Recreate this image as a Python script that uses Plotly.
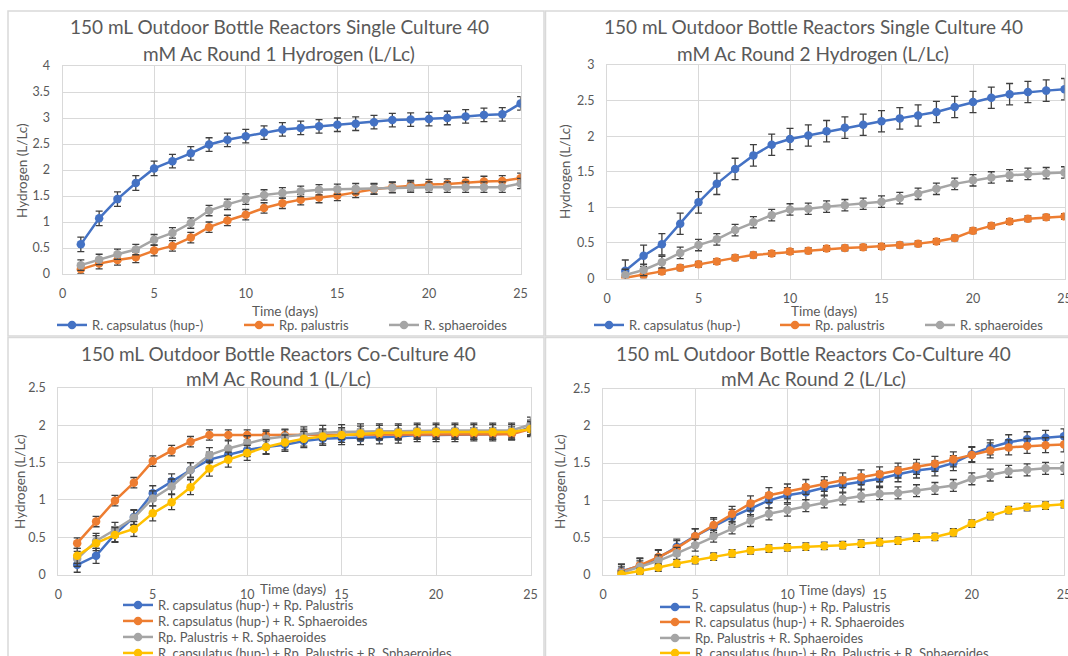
import plotly.graph_objects as go

W, H = 1068, 656
FONT = "Lato"
TXT = "#595959"
GRID = "#d9d9d9"
BLUE, ORANGE, GRAY, GOLD = "#4472C4", "#ED7D31", "#A5A5A5", "#FFC000"

days = list(range(1, 26))

# ---- Single culture, round 1 ----
r1_cap = [0.57, 1.07, 1.44, 1.75, 2.03, 2.17, 2.32, 2.49, 2.58, 2.65, 2.72, 2.78, 2.81,
          2.84, 2.87, 2.89, 2.92, 2.96, 2.97, 2.98, 3.00, 3.03, 3.06, 3.07, 3.28]
r1_cap_err = [0.14, 0.14, 0.14, 0.14, 0.14, 0.13, 0.13, 0.13, 0.13, 0.13, 0.13, 0.13, 0.13,
              0.13, 0.13, 0.13, 0.13, 0.13, 0.13, 0.13, 0.13, 0.13, 0.13, 0.13, 0.13]
r1_pal = [0.09, 0.20, 0.27, 0.32, 0.45, 0.54, 0.70, 0.90, 1.03, 1.14, 1.27, 1.36, 1.43,
          1.47, 1.51, 1.57, 1.63, 1.67, 1.70, 1.72, 1.73, 1.76, 1.78, 1.79, 1.84]
r1_pal_err = [0.09, 0.1, 0.1, 0.1, 0.1, 0.1, 0.1, 0.1, 0.1, 0.1, 0.1, 0.1, 0.1,
              0.1, 0.1, 0.1, 0.1, 0.1, 0.1, 0.1, 0.1, 0.1, 0.1, 0.1, 0.1]
r1_sph = [0.17, 0.28, 0.38, 0.47, 0.66, 0.79, 0.98, 1.22, 1.34, 1.44, 1.52, 1.56, 1.59,
          1.62, 1.63, 1.64, 1.64, 1.66, 1.67, 1.67, 1.67, 1.67, 1.67, 1.67, 1.74]
r1_sph_err = [0.1, 0.1, 0.1, 0.1, 0.1, 0.1, 0.1, 0.1, 0.1, 0.1, 0.1, 0.1, 0.1,
              0.1, 0.1, 0.1, 0.1, 0.1, 0.1, 0.1, 0.1, 0.1, 0.1, 0.1, 0.1]

# ---- Single culture, round 2 ----
r2_cap = [0.11, 0.32, 0.48, 0.77, 1.07, 1.33, 1.54, 1.73, 1.88, 1.96, 2.01, 2.07, 2.12,
          2.16, 2.21, 2.25, 2.29, 2.34, 2.41, 2.48, 2.54, 2.59, 2.62, 2.64, 2.66]
r2_cap_err = [0.15, 0.15, 0.15, 0.15, 0.15, 0.15, 0.15, 0.15, 0.15, 0.15, 0.15, 0.15, 0.15,
              0.15, 0.15, 0.15, 0.15, 0.15, 0.15, 0.15, 0.15, 0.15, 0.15, 0.15, 0.15]
r2_pal = [0.01, 0.05, 0.10, 0.15, 0.20, 0.24, 0.29, 0.33, 0.35, 0.38, 0.39, 0.42, 0.43,
          0.44, 0.45, 0.47, 0.49, 0.52, 0.57, 0.67, 0.74, 0.80, 0.84, 0.86, 0.87]
r2_pal_err = [0.03, 0.04, 0.04, 0.04, 0.04, 0.04, 0.04, 0.04, 0.04, 0.04, 0.04, 0.04, 0.04,
              0.04, 0.04, 0.04, 0.04, 0.04, 0.04, 0.04, 0.04, 0.04, 0.04, 0.04, 0.04]
r2_sph = [0.05, 0.12, 0.23, 0.36, 0.47, 0.55, 0.68, 0.79, 0.89, 0.97, 0.98, 1.01, 1.03,
          1.05, 1.08, 1.13, 1.19, 1.26, 1.33, 1.38, 1.42, 1.45, 1.47, 1.48, 1.49]
r2_sph_err = [0.08, 0.08, 0.08, 0.08, 0.08, 0.08, 0.08, 0.08, 0.08, 0.08, 0.08, 0.08, 0.08,
              0.08, 0.08, 0.08, 0.08, 0.08, 0.08, 0.08, 0.08, 0.08, 0.08, 0.08, 0.08]

# ---- Co-culture, round 1 ----
c1_cap_pal = [0.13, 0.25, 0.54, 0.77, 1.09, 1.25, 1.40, 1.54, 1.61, 1.67, 1.71, 1.74, 1.79,
              1.82, 1.83, 1.83, 1.84, 1.85, 1.87, 1.87, 1.87, 1.88, 1.88, 1.89, 1.97]
c1_cap_pal_err = [0.1, 0.1, 0.1, 0.1, 0.1, 0.1, 0.1, 0.1, 0.09, 0.09, 0.09, 0.09, 0.09,
                  0.09, 0.09, 0.09, 0.09, 0.09, 0.09, 0.09, 0.09, 0.09, 0.09, 0.09, 0.1]
c1_cap_sph = [0.42, 0.71, 0.99, 1.23, 1.52, 1.66, 1.78, 1.87, 1.87, 1.87, 1.87, 1.87, 1.88,
              1.88, 1.88, 1.88, 1.88, 1.88, 1.88, 1.88, 1.88, 1.88, 1.88, 1.88, 1.95]
c1_cap_sph_err = [0.07, 0.07, 0.07, 0.07, 0.07, 0.07, 0.07, 0.07, 0.07, 0.07, 0.07, 0.07, 0.07,
                  0.07, 0.07, 0.07, 0.07, 0.07, 0.07, 0.07, 0.07, 0.07, 0.07, 0.07, 0.08]
c1_pal_sph = [0.21, 0.45, 0.60, 0.76, 1.02, 1.18, 1.40, 1.60, 1.69, 1.76, 1.82, 1.85, 1.88,
              1.90, 1.91, 1.92, 1.92, 1.92, 1.93, 1.93, 1.93, 1.93, 1.93, 1.93, 2.01]
c1_pal_sph_err = [0.1, 0.1, 0.1, 0.1, 0.1, 0.1, 0.1, 0.1, 0.1, 0.1, 0.1, 0.1, 0.1,
                  0.1, 0.1, 0.1, 0.1, 0.1, 0.1, 0.1, 0.1, 0.1, 0.1, 0.1, 0.1]
c1_all = [0.25, 0.42, 0.53, 0.61, 0.82, 0.97, 1.17, 1.42, 1.54, 1.63, 1.71, 1.77, 1.82,
          1.85, 1.87, 1.89, 1.90, 1.90, 1.91, 1.91, 1.91, 1.91, 1.91, 1.91, 1.95]
c1_all_err = [0.1, 0.1, 0.1, 0.1, 0.1, 0.1, 0.1, 0.1, 0.1, 0.1, 0.1, 0.1, 0.1,
              0.1, 0.1, 0.1, 0.1, 0.1, 0.1, 0.1, 0.1, 0.1, 0.1, 0.1, 0.1]

# ---- Co-culture, round 2 ----
c2_cap_pal = [0.05, 0.12, 0.23, 0.38, 0.52, 0.65, 0.78, 0.89, 1.00, 1.07, 1.11, 1.17, 1.21,
              1.25, 1.29, 1.35, 1.40, 1.43, 1.50, 1.62, 1.71, 1.78, 1.82, 1.84, 1.86]
c2_cap_pal_err = [0.1, 0.1, 0.1, 0.1, 0.1, 0.1, 0.1, 0.1, 0.1, 0.1, 0.1, 0.1, 0.1,
                  0.1, 0.1, 0.1, 0.1, 0.1, 0.1, 0.1, 0.1, 0.1, 0.1, 0.1, 0.1]
c2_cap_sph = [0.04, 0.13, 0.24, 0.36, 0.52, 0.67, 0.82, 0.96, 1.07, 1.12, 1.18, 1.22, 1.27,
              1.31, 1.35, 1.40, 1.45, 1.49, 1.55, 1.61, 1.67, 1.71, 1.73, 1.74, 1.75]
c2_cap_sph_err = [0.1, 0.1, 0.1, 0.1, 0.1, 0.1, 0.1, 0.1, 0.1, 0.1, 0.1, 0.1, 0.1,
                  0.1, 0.1, 0.1, 0.1, 0.1, 0.1, 0.1, 0.1, 0.1, 0.1, 0.1, 0.1]
c2_pal_sph = [0.03, 0.11, 0.19, 0.29, 0.40, 0.52, 0.63, 0.73, 0.82, 0.87, 0.93, 0.98, 1.02,
              1.06, 1.09, 1.10, 1.13, 1.16, 1.20, 1.29, 1.34, 1.39, 1.41, 1.43, 1.43]
c2_pal_sph_err = [0.08, 0.08, 0.08, 0.08, 0.08, 0.08, 0.08, 0.08, 0.08, 0.08, 0.08, 0.08, 0.08,
                  0.08, 0.08, 0.08, 0.08, 0.08, 0.08, 0.08, 0.08, 0.08, 0.08, 0.08, 0.08]
c2_all = [0.01, 0.05, 0.10, 0.155, 0.20, 0.245, 0.29, 0.33, 0.355, 0.37, 0.38, 0.39, 0.40,
          0.42, 0.44, 0.46, 0.50, 0.51, 0.57, 0.69, 0.79, 0.87, 0.91, 0.93, 0.95]
c2_all_err = [0.04, 0.04, 0.05, 0.05, 0.05, 0.05, 0.05, 0.05, 0.05, 0.05, 0.05, 0.05, 0.05,
              0.05, 0.05, 0.05, 0.05, 0.05, 0.05, 0.05, 0.05, 0.05, 0.05, 0.05, 0.05]

single_names = ["R. capsulatus (hup-)", "Rp. palustris", "R. sphaeroides"]
co_names = ["R. capsulatus (hup-) + Rp. Palustris", "R. capsulatus (hup-) + R. Sphaeroides",
            "Rp. Palustris + R. Sphaeroides", "R. capsulatus (hup-) + Rp. Palustris + R. Sphaeroides"]

title_lines = [
    ("150 mL Outdoor Bottle Reactors Single Culture 40", "mM Ac Round 1 Hydrogen (L/Lc)"),
    ("150 mL Outdoor Bottle Reactors Single Culture 40", "mM Ac Round 2 Hydrogen (L/Lc)"),
    ("150 mL Outdoor Bottle Reactors Co-Culture 40", "mM Ac Round 1 (L/Lc)"),
    ("150 mL Outdoor Bottle Reactors Co-Culture 40", "mM Ac Round 2 (L/Lc)"),
]
x_title = "Time (days)"
y_title = "Hydrogen (L/Lc)"
y_max = [4, 3, 2.5, 2.5]


def px(x):
    return x / W


def py(y):
    return 1 - y / H


# plot areas in pixels: (left, right, top, bottom)
areas = [(62.5, 520.6, 66, 274), (607, 1064.5, 65, 278.5),
         (58.3, 530.5, 388, 574.5), (603, 1064, 388.5, 575)]
title_pos = [(279, 27, 53), (813, 27, 53), (278, 353, 378), (813, 353, 378)]
xt_pos = [(285, 311), (824, 311), (293, 589), (832, 590)]
yt_pos = [(22, 170), (565, 172), (20, 482), (560, 482)]

fig = go.Figure()

panels = [
    [(r1_cap, r1_cap_err), (r1_pal, r1_pal_err), (r1_sph, r1_sph_err)],
    [(r2_cap, r2_cap_err), (r2_pal, r2_pal_err), (r2_sph, r2_sph_err)],
    [(c1_cap_pal, c1_cap_pal_err), (c1_cap_sph, c1_cap_sph_err), (c1_pal_sph, c1_pal_sph_err), (c1_all, c1_all_err)],
    [(c2_cap_pal, c2_cap_pal_err), (c2_cap_sph, c2_cap_sph_err), (c2_pal_sph, c2_pal_sph_err), (c2_all, c2_all_err)],
]
colors = [BLUE, ORANGE, GRAY, GOLD]
legend_pos = [
    [(57, 325), (244, 325), (389, 325)],
    [(594, 325), (780, 325), (925, 325)],
    [(123, 605), (123, 621), (123, 637), (123, 653)],
    [(660, 607), (660, 622), (660, 638), (660, 653)],
]

lid = 0
layout_extra = {}
for p, series in enumerate(panels):
    names = single_names if p < 2 else co_names
    xa = "x" if p == 0 else f"x{p+1}"
    ya = "y" if p == 0 else f"y{p+1}"
    for s, (vals, err) in enumerate(series):
        lid += 1
        lname = "legend" if lid == 1 else f"legend{lid}"
        fig.add_trace(go.Scatter(
            x=days, y=vals, name=names[s], mode="lines+markers",
            xaxis=xa, yaxis=ya, legend=lname,
            line=dict(color=colors[s], width=2.5),
            marker=dict(color=colors[s], size=8.5),
            error_y=dict(type="data", array=err, visible=True, color="#3f3f3f",
                         thickness=1.3, width=3.5),
        ))
        lx, ly = legend_pos[p][s]
        layout_extra[lname] = dict(
            x=px(lx - 5), y=py(ly), xanchor="left", yanchor="middle",
            xref="paper", yref="paper", orientation="v",
            bgcolor="rgba(0,0,0,0)", borderwidth=0, itemwidth=30,
            font=dict(family=FONT, size=13, color=TXT),
        )
    l, r, t, b = areas[p]
    axis_common = dict(showgrid=True, gridcolor=GRID, gridwidth=1, zeroline=False,
                       showline=True, linecolor=GRID, linewidth=1, mirror=True,
                       ticks="", ticklabeloverflow="allow",
                       tickfont=dict(family=FONT, size=12.5, color=TXT))
    layout_extra["xaxis" if p == 0 else f"xaxis{p+1}"] = dict(
        domain=[px(l), px(r)], range=[0, 25], dtick=5, tick0=0, anchor=ya,
        ticklabelstandoff=8, **axis_common)
    layout_extra["yaxis" if p == 0 else f"yaxis{p+1}"] = dict(
        domain=[py(b), py(t)], range=[0, y_max[p]], dtick=0.5, tick0=0, anchor=xa,
        ticklabelstandoff=9, **axis_common)

annotations = []
for p in range(4):
    cx, y1, y2 = title_pos[p]
    for txt, yy in zip(title_lines[p], (y1, y2)):
        annotations.append(dict(text=txt, x=px(cx), y=py(yy), xref="paper", yref="paper",
                                xanchor="center", yanchor="middle", showarrow=False,
                                font=dict(family=FONT, size=19, color=TXT)))
    annotations.append(dict(text=x_title, x=px(xt_pos[p][0]), y=py(xt_pos[p][1]),
                            xref="paper", yref="paper", xanchor="center", yanchor="middle",
                            showarrow=False, font=dict(family=FONT, size=13.5, color=TXT)))
    annotations.append(dict(text=y_title, x=px(yt_pos[p][0]), y=py(yt_pos[p][1]),
                            xref="paper", yref="paper", xanchor="center", yanchor="middle",
                            textangle=-90, showarrow=False,
                            font=dict(family=FONT, size=13.5, color=TXT)))

shapes = [
    dict(type="rect", xref="paper", yref="paper", x0=px(8), x1=px(544), y0=py(336), y1=py(11),
         line=dict(color=GRID, width=1.5), layer="below"),
    dict(type="rect", xref="paper", yref="paper", x0=px(545.5), x1=px(1075), y0=py(336), y1=py(11),
         line=dict(color=GRID, width=1.5), layer="below"),
    dict(type="rect", xref="paper", yref="paper", x0=px(8), x1=px(544), y0=py(670), y1=py(337.5),
         line=dict(color=GRID, width=1.5), layer="below"),
    dict(type="rect", xref="paper", yref="paper", x0=px(545.5), x1=px(1075), y0=py(670), y1=py(337.5),
         line=dict(color=GRID, width=1.5), layer="below"),
]

fig.update_layout(
    width=W, height=H, margin=dict(l=0, r=0, t=0, b=0, pad=0, autoexpand=False),
    paper_bgcolor="white", plot_bgcolor="white",
    font=dict(family=FONT, color=TXT), showlegend=True,
    annotations=annotations, shapes=shapes, **layout_extra,
)

fig.write_html("out.html")
